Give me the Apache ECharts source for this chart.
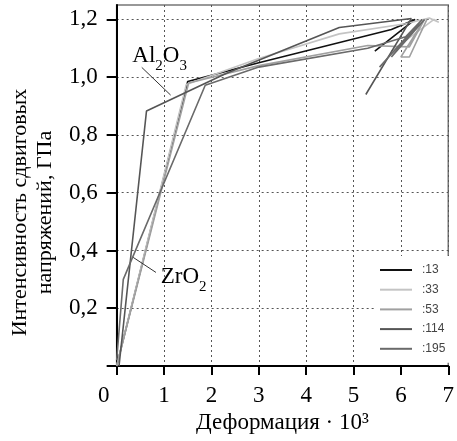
<!DOCTYPE html>
<html>
<head>
<meta charset="utf-8">
<script src="https://cdn.jsdelivr.net/npm/echarts@6/dist/echarts.min.js"></script>
<style>
	html, body { margin: 0; padding: 0; background: #fff; }
	#chart { width: 457px; height: 441px; }
</style>
</head>
<body>
<div id="chart"></div>
<script>
	"use strict";

	/*----- data -----*/
	var seriesNames = [':13', ':33', ':53', ':114', ':195'];
	var data13 = [[0, 0], [1.5, 0.985], [3, 1.05], [5.8, 1.165], [6.3, 1.2], [5.45, 1.09]];
	var data33 = [[0, 0], [1.47, 0.975], [3, 1.065], [4.7, 1.15], [6.1, 1.185], [6.6, 1.205], [6.8, 1.19], [6.7, 1.2], [5.8, 1.09]];
	var data53 = [[0, 0], [1.52, 0.98], [3, 1.04], [5.3, 1.11], [6.18, 1.105], [6.5, 1.2], [6.0, 1.07], [6.18, 1.07], [6.55, 1.2]];
	var data114 = [[0.05, 0], [0.63, 0.883], [2.32, 1.014], [4.7, 1.172], [6.22, 1.203], [5.26, 0.94]];
	var data195 = [[0, 0.02], [0.14, 0.3], [1.87, 0.972], [3, 1.035], [5.3, 1.1], [6.1, 1.14], [6.45, 1.2], [5.55, 1.035], [6.4, 1.19], [5.8, 1.07], [6.5, 1.2]];
	var xTicks = [0, 1, 2, 3, 4, 5, 6, 7];
	var yTicks = [0, 0.2, 0.4, 0.6, 0.8, 1.0, 1.2];
	var yLabelTicks = [0.2, 0.4, 0.6, 0.8, 1.0, 1.2];

	var serif = '"Liberation Serif", "Times New Roman", serif';
	var colors = ['#111111', '#c4c4c4', '#a0a0a0', '#555555', '#6a6a6a'];
	var allData = [data13, data33, data53, data114, data195];

	var series = allData.map(function (d, i) {
		return {
			name: seriesNames[i],
			type: 'line',
			data: d,
			symbol: 'none',
			lineStyle: { color: colors[i], width: 1.6 },
			itemStyle: { color: colors[i] }
		};
	});

	var option = {
		animation: false,
		grid: {
			left: 116,
			right: -3,
			top: 5,
			bottom: 75,
			show: true,
			borderColor: '#777',
			borderWidth: 1.5
		},
		legend: {
			data: seriesNames,
			orient: 'vertical',
			left: 375,
			top: 256,
			padding: [7, 8, 7, 5],
			backgroundColor: '#fff',
			icon: 'rect',
			itemWidth: 32,
			itemHeight: 2,
			itemGap: 5.7,
			textStyle: {
				fontFamily: '"Liberation Sans", Arial, sans-serif',
				fontSize: 12,
				lineHeight: 14,
				color: '#444',
				padding: [0, 0, 0, 5]
			}
		},
		xAxis: {
			type: 'value',
			min: 0,
			max: 7,
			interval: 1,
			name: 'Деформация · 10³',
			nameLocation: 'middle',
			nameGap: 40,
			nameTextStyle: { fontFamily: serif, fontSize: 23, color: '#000' },
			axisLine: { lineStyle: { color: '#000', width: 2 } },
			axisTick: { show: true, length: 9, lineStyle: { color: '#000', width: 2 } },
			axisLabel: {
				fontFamily: serif,
				fontSize: 23,
				color: '#000',
				margin: 18,
				customValues: xTicks,
				formatter: function (v) { return v === 0 ? '{z|0}' : String(v); },
				rich: { z: { fontFamily: serif, fontSize: 23, color: '#000', padding: [0, 26, 0, 0] } }
			},
			splitLine: { lineStyle: { color: '#555', type: [2, 3], width: 1 } }
		},
		yAxis: {
			type: 'value',
			min: 0,
			max: 1.25,
			interval: 0.2,
			name: 'Интенсивность сдвиговых\nнапряжений, ГПа',
			nameLocation: 'middle',
			nameRotate: 90,
			nameGap: 54,
			nameTextStyle: { fontFamily: serif, fontSize: 22, color: '#000', lineHeight: 25, padding: [0, 54, 0, 0] },
			axisLine: { lineStyle: { color: '#000', width: 2 } },
			axisTick: { show: true, length: 10, customValues: yTicks, lineStyle: { color: '#000', width: 2 } },
			axisLabel: {
				fontFamily: serif,
				fontSize: 23,
				color: '#000',
				margin: 19,
				customValues: yLabelTicks,
				formatter: function (v) { return v.toFixed(1).replace('.', ','); }
			},
			splitLine: { lineStyle: { color: '#555', type: [2, 3], width: 1 } }
		},
		series: series
	};

	var chart = echarts.init(document.getElementById('chart'));
	chart.setOption(option);

	/*----- annotations, anchored in data units -----*/
	var notes = [
		{ text: '{a|Al}{s|2}{a|O}{s|3}', at: [0.33, 1.117], from: [0.53, 1.034], to: [1.14, 0.938] },
		{ text: '{a|ZrO}{s|2}', at: [0.93, 0.352], from: [0.83, 0.324], to: [0.35, 0.376] }
	];
	var graphics = [];
	notes.forEach(function (n) {
		var p = chart.convertToPixel({ gridIndex: 0 }, n.at);
		var a = chart.convertToPixel({ gridIndex: 0 }, n.from);
		var b = chart.convertToPixel({ gridIndex: 0 }, n.to);
		graphics.push({
			type: 'line',
			shape: { x1: a[0], y1: a[1], x2: b[0], y2: b[1] },
			style: { stroke: '#333', lineWidth: 1 },
			z: 10
		});
		graphics.push({
			type: 'text',
			x: p[0],
			y: p[1],
			z: 10,
			style: {
				text: n.text,
				fill: '#000',
				rich: {
					a: { fontFamily: serif, fontSize: 23, verticalAlign: 'bottom', lineHeight: 24 },
					s: { fontFamily: serif, fontSize: 15, verticalAlign: 'bottom', lineHeight: 24, padding: [0, 0, -6, 0] }
				}
			}
		});
	});
	chart.setOption({ graphic: graphics });
</script>
</body>
</html>
